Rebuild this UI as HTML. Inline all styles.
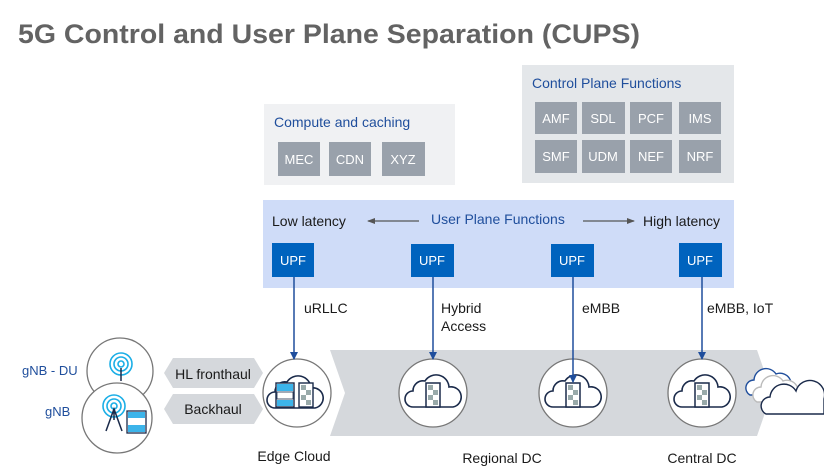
<!DOCTYPE html>
<html><head><meta charset="utf-8"><style>
html,body{margin:0;padding:0;background:#fff;}
svg{display:block;font-family:"Liberation Sans",sans-serif;}
</style></head><body>
<svg width="824" height="474" viewBox="0 0 824 474" xmlns="http://www.w3.org/2000/svg">
<defs>
<marker id="ah" markerWidth="8" markerHeight="8" refX="7" refY="4" orient="auto" markerUnits="userSpaceOnUse"><path d="M0,0 L8,4 L0,8 Z" fill="#1f4e9c"/></marker>
<marker id="ag" markerWidth="8" markerHeight="8" refX="7" refY="4" orient="auto" markerUnits="userSpaceOnUse"><path d="M0,1 L8,4 L0,7 Z" fill="#555"/></marker>
<g id="cloud">
<path d="M-20,12 a8,8 0 0 1 0,-16 a10,10 0 0 1 12,-10 a13,13 0 0 1 24,6 a10,10 0 0 1 4,20 Z" fill="#fff" stroke="#1a2a4a" stroke-width="1.6"/>
<rect x="-7" y="-12" width="14" height="24" fill="#fff" stroke="#1a2a4a" stroke-width="1.5"/>
<rect x="-5" y="-10" width="5" height="5" fill="#9aa"/><rect x="0" y="-5" width="5" height="5" fill="#9aa"/><rect x="-5" y="0" width="5" height="5" fill="#9aa"/><rect x="0" y="5" width="5" height="5" fill="#9aa"/>
</g>
</defs>
<text x="18" y="43" font-size="27" font-weight="bold" fill="#636363" textLength="622" lengthAdjust="spacingAndGlyphs">5G Control and User Plane Separation (CUPS)</text>

<rect x="264" y="104" width="191" height="81" fill="#f0f1f3"/>
<text x="274" y="127" font-size="14" fill="#1f4e9c">Compute and caching</text>
<g font-size="13" fill="#fff" text-anchor="middle">
<rect x="278" y="142" width="42" height="34" fill="#99a1ab"/><text x="299" y="164">MEC</text>
<rect x="329" y="142" width="42" height="34" fill="#99a1ab"/><text x="350" y="164">CDN</text>
<rect x="382" y="142" width="43" height="34" fill="#99a1ab"/><text x="403" y="164">XYZ</text>
</g>
<rect x="522" y="65" width="212" height="118" fill="#e4e7ea"/>
<text x="532" y="88" font-size="14" fill="#1f4e9c">Control Plane Functions</text>
<g font-size="13" fill="#fff" text-anchor="middle">
<rect x="535" y="102" width="42" height="32" fill="#99a1ab"/><text x="556" y="123">AMF</text>
<rect x="582" y="102" width="43" height="32" fill="#99a1ab"/><text x="603" y="123">SDL</text>
<rect x="630" y="102" width="42" height="32" fill="#99a1ab"/><text x="651" y="123">PCF</text>
<rect x="679" y="102" width="42" height="32" fill="#99a1ab"/><text x="700" y="123">IMS</text>
<rect x="535" y="140" width="42" height="33" fill="#99a1ab"/><text x="556" y="161">SMF</text>
<rect x="582" y="140" width="43" height="33" fill="#99a1ab"/><text x="603" y="161">UDM</text>
<rect x="630" y="140" width="42" height="33" fill="#99a1ab"/><text x="651" y="161">NEF</text>
<rect x="679" y="140" width="42" height="33" fill="#99a1ab"/><text x="700" y="161">NRF</text>
</g>
<rect x="263" y="200" width="471" height="88" fill="#cfdcf8"/>
<text x="272" y="226" font-size="14" fill="#1a1a1a">Low latency</text>
<text x="431" y="224" font-size="14" fill="#1f4e9c">User Plane Functions</text>
<text x="643" y="226" font-size="14" fill="#1a1a1a">High latency</text>
<line x1="419" y1="221" x2="368" y2="221" stroke="#555" stroke-width="1.2" marker-end="url(#ag)"/>
<line x1="583" y1="221" x2="634" y2="221" stroke="#555" stroke-width="1.2" marker-end="url(#ag)"/>
<g font-size="13" fill="#fff" text-anchor="middle">
<rect x="272" y="243" width="42" height="34" fill="#0063be"/><text x="293" y="265">UPF</text>
<rect x="411" y="244" width="43" height="33" fill="#0063be"/><text x="432" y="265">UPF</text>
<rect x="551" y="244" width="43" height="33" fill="#0063be"/><text x="572" y="265">UPF</text>
<rect x="679" y="243" width="43" height="34" fill="#0063be"/><text x="700" y="265">UPF</text>
</g>
<path d="M330,350 L757,350 L772,393 L757,436 L330,436 L345,393 Z" fill="#d5d8dc"/>
<g font-size="14" fill="#1a1a1a">
<text x="304" y="313">uRLLC</text>
<text x="441" y="313">Hybrid</text><text x="441" y="331">Access</text>
<text x="582" y="313">eMBB</text>
<text x="707" y="313">eMBB, IoT</text>
<text x="294" y="461" text-anchor="middle">Edge Cloud</text>
<text x="502" y="463" text-anchor="middle">Regional DC</text>
<text x="702" y="463" text-anchor="middle">Central DC</text>
</g>
<g fill="#fff" stroke="#777" stroke-width="1.3">
<circle cx="297" cy="393" r="34"/>
<circle cx="433" cy="393" r="34"/>
<circle cx="573" cy="393" r="34"/>
<circle cx="702" cy="393" r="34"/>
</g>
<use href="#cloud" x="433" y="395"/>
<use href="#cloud" x="573" y="395"/>
<use href="#cloud" x="702" y="395"/>
<g stroke="#1f4e9c" stroke-width="1.5">
<line x1="294" y1="277" x2="294" y2="359" marker-end="url(#ah)"/>
<line x1="433" y1="277" x2="433" y2="359" marker-end="url(#ah)"/>
<line x1="573" y1="277" x2="573" y2="382" marker-end="url(#ah)"/>
<line x1="702" y1="277" x2="702" y2="359" marker-end="url(#ah)"/>
</g>
<path d="M275,408 a8,8 0 0 1 0,-16 a10,10 0 0 1 12,-10 a13,13 0 0 1 24,6 a10,10 0 0 1 4,20 Z" fill="#fff" stroke="#1a2a4a" stroke-width="1.6"/>
<rect x="276" y="383" width="18" height="24" fill="#fff" stroke="#1a2a4a" stroke-width="1.4"/>
<rect x="277" y="384" width="16" height="7" fill="#3cb4ea"/><rect x="277" y="392" width="16" height="7" fill="#fff" stroke="#1a2a4a" stroke-width=".8"/><rect x="277" y="400" width="16" height="6" fill="#3cb4ea"/>
<rect x="299" y="383" width="14" height="24" fill="#fff" stroke="#1a2a4a" stroke-width="1.4"/>
<rect x="301" y="385" width="5" height="5" fill="#9aa"/><rect x="306" y="390" width="5" height="5" fill="#9aa"/><rect x="301" y="395" width="5" height="5" fill="#9aa"/><rect x="306" y="400" width="5" height="5" fill="#9aa"/>
<g fill="#fff" stroke-width="1.4">
<path d="M750,395 a8,8 0 0 1 4,-15 a12,12 0 0 1 22,-6 a10,10 0 0 1 8,21 Z" stroke="#1f4e9c"/>
<path d="M757,402 a8,8 0 0 1 4,-15 a12,12 0 0 1 22,-6 a10,10 0 0 1 8,21 Z" stroke="#bbb"/>
<path d="M766,414 a9,9 0 0 1 4,-17 a14,14 0 0 1 26,-6 a12,12 0 0 1 28,8 L824,414 Z" stroke="#1a2a4a"/>
</g>
<path d="M173,358 L254,358 L263,373 L254,388 L173,388 L164,373 Z" fill="#d5d8dc"/>
<path d="M173,394 L254,394 L263,409 L254,424 L173,424 L164,409 Z" fill="#d5d8dc"/>
<text x="213" y="379" font-size="14" fill="#1a1a1a" text-anchor="middle">HL fronthaul</text>
<text x="213" y="414" font-size="14" fill="#1a1a1a" text-anchor="middle">Backhaul</text>
<circle cx="120" cy="371" r="33" fill="#fff" stroke="#777" stroke-width="1.3"/>
<g fill="none" stroke="#1aaee6" stroke-width="1.6"><circle cx="121" cy="364" r="3"/><circle cx="121" cy="364" r="7"/><circle cx="121" cy="364" r="11"/></g>
<line x1="121" y1="368" x2="121" y2="381" stroke="#1a2a4a" stroke-width="1.5"/>
<circle cx="117" cy="418" r="35" fill="#fff" stroke="#777" stroke-width="1.3"/>
<g fill="none" stroke="#1aaee6" stroke-width="1.6"><circle cx="114" cy="406" r="3"/><circle cx="114" cy="406" r="7"/><circle cx="114" cy="406" r="11"/></g>
<path d="M106,431 L114,409 L122,431 M114,409 L114,420" stroke="#1a2a4a" stroke-width="1.5" fill="none"/>
<rect x="127" y="411" width="19" height="22" fill="#fff" stroke="#1a2a4a" stroke-width="1.3"/>
<rect x="128" y="412" width="17" height="6" fill="#3cb4ea"/><rect x="128" y="425" width="17" height="7" fill="#3cb4ea"/>
<g font-size="13" fill="#1f4e9c"><text x="22" y="375">gNB - DU</text><text x="45" y="416">gNB</text></g>
</svg>
</body></html>
